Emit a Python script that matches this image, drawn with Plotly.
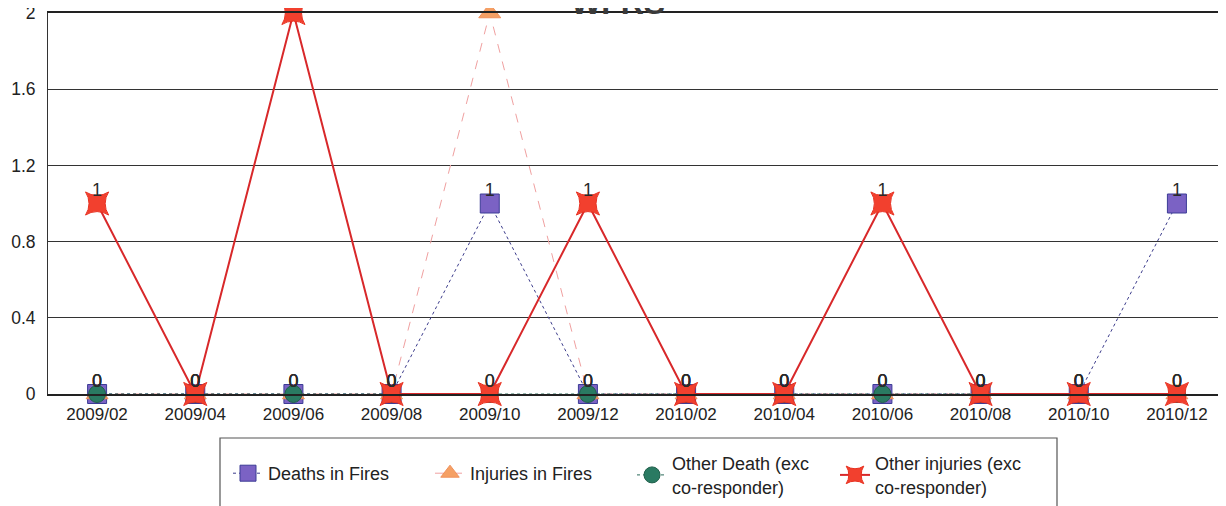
import plotly.graph_objects as go

months = ["2009/02", "2009/04", "2009/06", "2009/08", "2009/10", "2009/12",
          "2010/02", "2010/04", "2010/06", "2010/08", "2010/10", "2010/12"]
deaths_in_fires = [0, 0, 0, 0, 1, 0, 0, 0, 0, 0, 0, 1]
injuries_in_fires = [0, 0, 0, 0, 2, 0, 0, 0, 0, 0, 0, 0]
other_death = [0, 0, 0, 0, 0, 0, 0, 0, 0, 0, 0, 0]
other_injuries = [1, 0, 2, 0, 0, 1, 0, 0, 1, 0, 0, 0]
y_ticks = [0, 0.4, 0.8, 1.2, 1.6, 2]

FONT = "Liberation Sans, Arial, sans-serif"

# page body adds an 8px offset; figure is sized so plot area lands where the reference has it
OFF = 8
W, H = 1226 - OFF, 506 - OFF
L, T, B = 48, 13, 394          # target plot-area pixels in the window
PH = B - T
PW = 1226 - L

def px_x(px):
    return (px - L) / PW

def px_y(py):
    return (B - py) / PH

fig = go.Figure()

series = [
    ("Deaths in Fires", deaths_in_fires, "square", 19, "#7b62c4", "#3c3c96", "#3c3c8c", 1, "dot", "legend"),
    ("Injuries in Fires", injuries_in_fires, "triangle-up", 19, "#f5a064", "#f0905a", "#f0a0a0", 1, "dash", "legend"),
    ("Other Death (exc<br>co-responder)", other_death, "circle", 17, "#2a7a62", "#1f5f4a", "#2a6a5a", 1, "dot", "legend2"),
    ("Other injuries (exc<br>co-responder)", other_injuries, "star-square", 21, "#f2402e", "#e83020", "#d8282a", 2, "solid", "legend2"),
]

for name, vals, symbol, size, fill, edge, lcolor, lwidth, dash, leg in series:
    fig.add_trace(go.Scatter(
        x=months, y=vals, name=name, mode="lines+markers", legend=leg,
        cliponaxis=False,
        line=dict(color=lcolor, width=lwidth, dash=dash),
        marker=dict(symbol=symbol, size=size, color=fill,
                    line=dict(color=edge, width=1)),
    ))

for name, vals, *_ in series:
    fig.add_trace(go.Scatter(
        x=months, y=vals, mode="markers+text", showlegend=False, hoverinfo="skip",
        text=[str(v) for v in vals], textposition="top center",
        textfont=dict(family=FONT, size=18, color="#2a2a2a"),
        cliponaxis=False,
        marker=dict(size=3, opacity=0),
    ))

fig.add_annotation(text="<b>WFRS</b>", xref="paper", yref="paper", x=px_x(618), y=1.0,
                   xanchor="center", yanchor="bottom", showarrow=False,
                   font=dict(family=FONT, size=32, color="#3a3a3a"), yshift=-10)

fig.add_shape(type="rect", xref="paper", yref="paper",
              x0=px_x(220), x1=px_x(1057),
              y0=px_y(438), y1=px_y(560),
              line=dict(color="#555555", width=1.2), fillcolor="rgba(0,0,0,0)")

legfont = dict(family=FONT, size=18, color="#222222")

fig.update_layout(
    width=W, height=H,
    margin=dict(l=L - OFF, r=0, t=T - OFF, b=H - (B - OFF), autoexpand=False),
    paper_bgcolor="white", plot_bgcolor="white",
    font=dict(family=FONT, size=16, color="#222222"),
    showlegend=True,
    legend=dict(orientation="h", x=px_x(228), y=px_y(455),
                xanchor="left", yanchor="top", font=legfont,
                entrywidth=157, entrywidthmode="pixels",
                bgcolor="rgba(0,0,0,0)", borderwidth=0, itemclick=False),
    legend2=dict(orientation="h", x=px_x(632), y=px_y(445),
                 xanchor="left", yanchor="top", font=legfont,
                 entrywidth=158, entrywidthmode="pixels",
                 bgcolor="rgba(0,0,0,0)", borderwidth=0, itemclick=False),
    xaxis=dict(type="category", range=[-0.5, len(months) - 0.5], autorange=False,
               showgrid=False, showline=True, mirror=True, linecolor="#222222",
               linewidth=1.5, ticks="", ticklabelstandoff=4, ticklabeloverflow="allow",
               tickfont=dict(family=FONT, size=17, color="#222222")),
    yaxis=dict(range=[0, 2], tickvals=y_ticks, ticktext=["0", "0.4", "0.8", "1.2", "1.6", "2"],
               showgrid=True, gridcolor="#333333", gridwidth=1, zeroline=True,
               zerolinecolor="#222222", zerolinewidth=1.5, showline=True,
               linecolor="#333333", linewidth=1, ticks="", ticklabelstandoff=8,
               ticklabeloverflow="allow",
               tickfont=dict(family=FONT, size=17.5, color="#222222")),
)

fig.write_html("out.html")
